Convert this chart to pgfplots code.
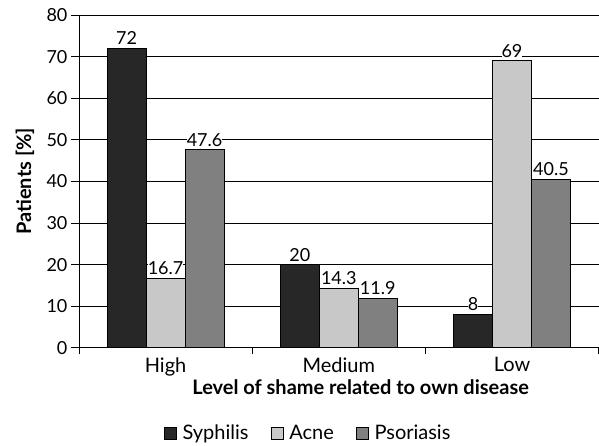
\documentclass[border=0pt]{standalone}
\usepackage{pgfplots}
\pgfplotsset{compat=1.18}
\usepackage{pgfplotstable}
\usepackage{fontspec}
\setmainfont{Lato}

\definecolor{syph}{HTML}{272727}
\definecolor{acne}{HTML}{C8C8C8}
\definecolor{pso}{HTML}{808080}

% level of shame: 0 = High, 1 = Medium, 2 = Low
\pgfplotstableread{
x syph acne pso
0 72  16.7 47.6
1 20  14.3 11.9
2 8   69   40.5
}\shame

\begin{document}
\begin{tikzpicture}
\begin{axis}[
    name=ax,
    scale only axis,
    width=520pt, height=333pt,
    xmin=-0.5, xmax=2.5,
    ymin=0, ymax=80,
    ytick={0,10,...,80},
    xtick={0,1,2},
    xticklabels={High,Medium,Low},
    minor xtick={-0.5,0.5,1.5,2.5},
    major x tick style={draw=none},
    tick style={black, line width=0.8pt},
    major tick length=8pt,
    minor tick length=6pt,
    tick align=outside,
    axis x line*=bottom,
    axis y line*=left,
    axis line style={black, line width=0.8pt, -},
    ymajorgrids,
    grid style={black, line width=0.8pt},
    yticklabel style={font=\fontsize{18}{21}\selectfont},
    xticklabel style={font=\fontsize{20}{23}\selectfont, yshift=2pt},
    /pgf/number format/assume math mode=true,
    ybar=0pt,
    bar width=39pt,
    nodes near coords,
    every node near coord/.append style={fill=white, inner xsep=0pt, inner ysep=3pt,
        font=\fontsize{18}{21}\selectfont},
    xlabel={\bfseries Level of shame related to own disease},
    xlabel style={at={(axis description cs:0.542,-0.139)}, anchor=base,
        font=\fontsize{20}{23}\selectfont},
    ylabel={\bfseries Patients [\%]},
    ylabel style={at={(axis description cs:-0.104,0.5)}, anchor=center,
        font=\fontsize{20}{23}\selectfont},
    legend columns=3,
    legend style={at={(0.441,-0.256)}, anchor=center, draw=none,
        font=\fontsize{20}{23}\selectfont,
        /tikz/every odd column/.append style={column sep=4pt},
        /tikz/every even column/.append style={column sep=20pt}},
    legend image code/.code={\draw[#1, draw=black, line width=0.8pt] (0pt,-6pt) rectangle (12pt,6pt);},
]
\addplot[fill=syph, draw=black, line width=0.8pt] table[x=x, y=syph] {\shame};
\addplot[fill=acne, draw=black, line width=0.8pt] table[x=x, y=acne] {\shame};
\addplot[fill=pso, draw=black, line width=0.8pt] table[x=x, y=pso] {\shame};
\legend{Syphilis, Acne, Psoriasis}
\end{axis}
\path ([xshift=-79pt, yshift=15pt]ax.north west) rectangle ([yshift=-97pt]ax.south east);
\end{tikzpicture}
\end{document}
